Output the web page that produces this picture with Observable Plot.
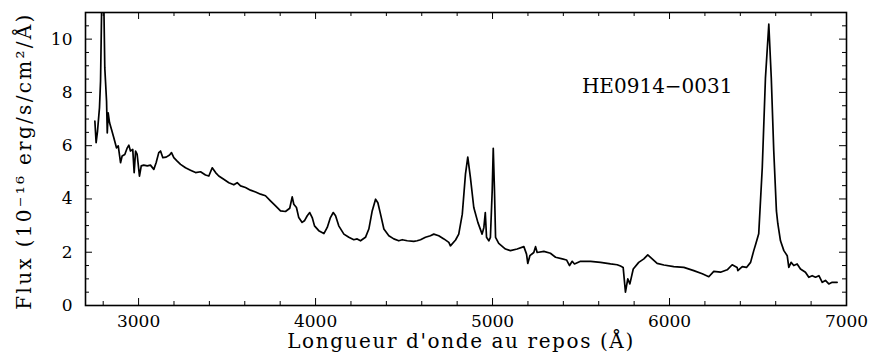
<!DOCTYPE html>
<html>
<head>
<meta charset="utf-8">
<script src="https://cdn.jsdelivr.net/npm/d3@7"></script>
<script src="https://cdn.jsdelivr.net/npm/@observablehq/plot@0.6"></script>
<style>
  body { margin: 0; background: #fff; }
  #chart svg { display: block; }
</style>
</head>
<body>
<div id="chart"></div>
<script>
// Rest-frame spectrum of HE0914-0031: wavelength (Å) and flux (1e-16 erg/s/cm²/Å)
const wavelength = [
  2753, 2760, 2768, 2775, 2779, 2785, 2792, 2798, 2803, 2809,
  2819, 2823, 2828, 2836, 2847, 2860, 2875, 2885, 2898, 2907,
  2922, 2936, 2945, 2954, 2967, 2975, 2983, 2992, 3005, 3015,
  3029, 3049, 3067, 3086, 3099, 3114, 3124, 3137, 3156, 3175,
  3186, 3199, 3218, 3237, 3265, 3293, 3322, 3350, 3378, 3397,
  3416, 3435, 3453, 3481, 3510, 3538, 3557, 3576, 3604, 3632,
  3661, 3689, 3717, 3745, 3774, 3802, 3830, 3854, 3868, 3877,
  3892, 3905, 3924, 3937, 3953, 3967, 3981, 3994, 4018, 4047,
  4066, 4084, 4100, 4113, 4131, 4160, 4188, 4216, 4235, 4254,
  4282, 4301, 4320, 4339, 4352, 4367, 4386, 4414, 4442, 4470,
  4490, 4518, 4555, 4574, 4593, 4621, 4649, 4668, 4696, 4725,
  4753, 4762, 4791, 4809, 4829, 4847, 4860, 4875, 4894, 4917,
  4941, 4951, 4959, 4966, 4979, 4988, 4998, 5004, 5011, 5017,
  5035, 5073, 5101, 5139, 5177, 5192, 5199, 5211, 5233, 5243,
  5252, 5290, 5327, 5356, 5394, 5418, 5435, 5450, 5463, 5497,
  5554, 5610, 5667, 5704, 5723, 5738, 5751, 5764, 5776, 5795,
  5826, 5855, 5877, 5902, 5930, 5968, 6024, 6081, 6137, 6185,
  6222, 6250, 6288, 6326, 6354, 6382, 6386, 6411, 6435, 6458,
  6476, 6486, 6504, 6524, 6542, 6561, 6575, 6589, 6604, 6612,
  6627, 6646, 6665, 6674, 6687, 6702, 6721, 6740, 6768, 6787,
  6806, 6825, 6844, 6863, 6881, 6900, 6919, 6947
];
const flux = [
  6.92, 6.11, 6.55, 7.11, 7.42, 8.42, 11.5, 12.2, 11.6, 8.92,
  7.67, 6.48, 7.23, 6.86, 6.61, 6.30, 5.92, 5.99, 5.36, 5.61,
  5.67, 5.92, 6.02, 5.80, 5.86, 4.99, 5.80, 5.67, 4.86, 5.24,
  5.27, 5.24, 5.27, 5.11, 5.36, 5.74, 5.80, 5.55, 5.57, 5.65,
  5.74, 5.55, 5.42, 5.30, 5.17, 5.08, 4.99, 5.02, 4.90, 4.86,
  5.17, 4.99, 4.86, 4.74, 4.61, 4.53, 4.61, 4.49, 4.43, 4.33,
  4.26, 4.18, 4.12, 3.93, 3.74, 3.55, 3.53, 3.65, 4.08, 3.80,
  3.68, 3.30, 3.12, 3.18, 3.37, 3.49, 3.30, 2.99, 2.81, 2.70,
  2.93, 3.30, 3.49, 3.37, 2.99, 2.68, 2.56, 2.47, 2.50, 2.43,
  2.56, 2.87, 3.55, 3.99, 3.86, 3.43, 2.87, 2.62, 2.50, 2.43,
  2.47, 2.43, 2.41, 2.43, 2.47, 2.56, 2.62, 2.68, 2.62, 2.50,
  2.37, 2.24, 2.46, 2.68, 3.43, 4.93, 5.57, 4.80, 3.68, 3.12,
  2.68, 2.93, 3.49, 2.56, 2.43, 2.56, 4.30, 5.90, 4.30, 2.56,
  2.33, 2.12, 2.06, 2.12, 2.21, 1.93, 1.58, 1.87, 1.99, 2.21,
  1.99, 2.03, 1.96, 1.81, 1.75, 1.71, 1.50, 1.66, 1.56, 1.66,
  1.66, 1.62, 1.56, 1.53, 1.48, 1.43, 0.50, 1.00, 0.81, 1.37,
  1.62, 1.75, 1.90, 1.75, 1.58, 1.52, 1.46, 1.43, 1.31, 1.19,
  1.08, 1.28, 1.25, 1.34, 1.53, 1.43, 1.31, 1.46, 1.43, 1.62,
  2.06, 2.28, 2.69, 5.17, 8.54, 10.56, 8.54, 5.80, 3.55, 3.07,
  2.43, 2.06, 1.87, 1.43, 1.62, 1.50, 1.56, 1.37, 1.25, 1.06,
  1.12, 1.06, 1.12, 0.87, 0.94, 0.81, 0.87, 0.87
];

// Axis ticks
const xMajorTicks = [3000, 4000, 5000, 6000, 7000];
const xMinorTicks = [2800, 3200, 3400, 3600, 3800, 4200, 4400, 4600, 4800,
                     5200, 5400, 5600, 5800, 6200, 6400, 6600, 6800];
const yMajorTicks = [0, 2, 4, 6, 8, 10];
const yMinorTicks = [0.5, 1, 1.5, 2.5, 3, 3.5, 4.5, 5, 5.5, 6.5, 7, 7.5,
                     8.5, 9, 9.5, 10.5];

// Texts
const xTitle = "Longueur d'onde au repos (Å)";
const yTitle = "Flux (10⁻¹⁶ erg/s/cm²/Å)";
const objectName = "HE0914−0031";
const objectAt = { x: 5505, y: 8.23 };

const spectrum = wavelength.map((w, i) => ({ w, f: flux[i] }));

const W = 872, H = 354;
const M = { top: 12, right: 26, bottom: 49, left: 85 };
const innerH = H - M.top - M.bottom;
const innerW = W - M.left - M.right;
const majorLen = 7, minorLen = 4;

const chart = Plot.plot({
  width: W,
  height: H,
  marginTop: M.top,
  marginRight: M.right,
  marginBottom: M.bottom,
  marginLeft: M.left,
  style: { fontFamily: "DejaVu Serif", fontSize: "17px", color: "black", background: "white" },
  x: { domain: [2700, 7000] },
  y: { domain: [0, 11] },
  marks: [
    // spectrum
    Plot.line(spectrum, { x: "w", y: "f", stroke: "black", strokeWidth: 1.7, clip: true }),

    // inward ticks on all four sides
    Plot.tickX(xMajorTicks, { x: d => d, stroke: "black", insetTop: innerH - majorLen }),
    Plot.tickX(xMajorTicks, { x: d => d, stroke: "black", insetBottom: innerH - majorLen }),
    Plot.tickX(xMinorTicks, { x: d => d, stroke: "black", insetTop: innerH - minorLen }),
    Plot.tickX(xMinorTicks, { x: d => d, stroke: "black", insetBottom: innerH - minorLen }),
    Plot.tickY(yMajorTicks, { y: d => d, stroke: "black", insetRight: innerW - majorLen }),
    Plot.tickY(yMajorTicks, { y: d => d, stroke: "black", insetLeft: innerW - majorLen }),
    Plot.tickY(yMinorTicks, { y: d => d, stroke: "black", insetRight: innerW - minorLen }),
    Plot.tickY(yMinorTicks, { y: d => d, stroke: "black", insetLeft: innerW - minorLen }),

    // tick labels
    Plot.axisX(xMajorTicks, { tickSize: 0, tickPadding: 9, tickFormat: d => String(d), label: null, fontSize: 17 }),
    Plot.axisY(yMajorTicks, { tickSize: 0, tickPadding: 13, tickFormat: d => String(d), label: null, fontSize: 17 }),

    // axis titles
    Plot.text([xTitle], { text: d => d, frameAnchor: "bottom", textAnchor: "middle", dx: -5, dy: 36, fontSize: 20, lineAnchor: "middle" }),
    Plot.text([yTitle], { text: d => d, frameAnchor: "left", textAnchor: "middle", dx: -61, dy: 2, rotate: -90, fontSize: 20, lineAnchor: "middle" }),

    // object name
    Plot.text([objectName], { x: objectAt.x, y: objectAt.y, text: d => d, textAnchor: "start", lineAnchor: "middle", fontSize: 20 }),

    Plot.frame({ stroke: "black", strokeWidth: 1.6 })
  ]
});

// wider tracking on the axis titles
d3.select(chart).selectAll("text")
  .filter(function () { return this.textContent === xTitle; })
  .attr("letter-spacing", 1.6);
d3.select(chart).selectAll("text")
  .filter(function () { return this.textContent === yTitle; })
  .attr("letter-spacing", 2.3);

document.getElementById("chart").append(chart);
</script>
</body>
</html>
